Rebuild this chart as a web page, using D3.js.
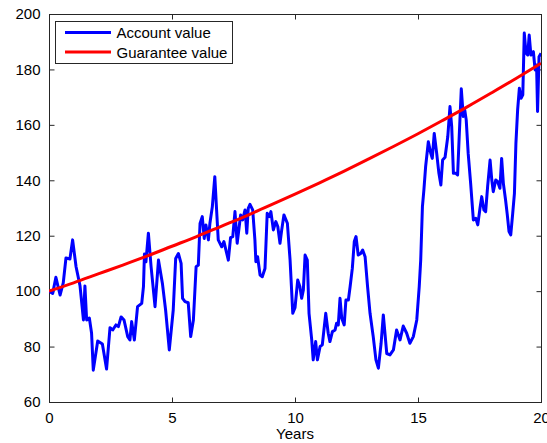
<!DOCTYPE html>
<html>
<head>
<meta charset="utf-8">
<script src="https://cdn.jsdelivr.net/npm/d3@7"></script>
<style>
  body { margin: 0; background: #fff; }
  text { font-family: "Liberation Sans", Arial, sans-serif; }
</style>
</head>
<body>
<div id="chart"></div>
<script>
// account value path (years, value)
var accountYears = [0,0.15,0.28,0.45,0.58,0.69,0.85,0.96,1.1,1.26,1.4,1.46,1.53,1.64,1.73,1.8,1.98,2.17,2.34,2.48,2.59,2.72,2.82,2.93,3.05,3.2,3.29,3.36,3.47,3.6,3.77,3.84,3.88,3.94,4.04,4.15,4.31,4.45,4.61,4.74,4.89,5.05,5.15,5.26,5.37,5.43,5.53,5.66,5.76,5.87,5.98,6.07,6.14,6.23,6.31,6.38,6.48,6.54,6.64,6.74,6.82,6.88,7.02,7.11,7.29,7.38,7.47,7.56,7.65,7.79,7.87,7.97,8.04,8.1,8.17,8.28,8.37,8.41,8.48,8.58,8.67,8.78,8.87,8.96,9.02,9.12,9.22,9.3,9.39,9.46,9.55,9.69,9.8,9.91,10.0,10.11,10.2,10.27,10.34,10.41,10.5,10.57,10.68,10.74,10.84,10.91,11.02,11.11,11.25,11.35,11.42,11.52,11.63,11.69,11.76,11.83,11.9,12.0,12.07,12.17,12.24,12.33,12.41,12.48,12.57,12.67,12.75,12.85,12.95,13.05,13.18,13.29,13.39,13.5,13.59,13.73,13.86,14.0,14.13,14.27,14.4,14.54,14.67,14.81,14.95,15.05,15.11,15.18,15.24,15.31,15.42,15.52,15.58,15.66,15.76,15.85,15.93,16.0,16.1,16.21,16.3,16.37,16.44,16.54,16.61,16.68,16.76,16.84,16.9,16.96,17.04,17.14,17.25,17.35,17.43,17.52,17.59,17.68,17.75,17.83,17.93,18.0,18.06,18.16,18.24,18.33,18.4,18.47,18.56,18.63,18.7,18.77,18.85,18.92,18.98,19.05,19.12,19.19,19.26,19.32,19.39,19.46,19.52,19.59,19.69,19.76,19.82,19.86,19.92,20.0];
var accountValues = [100,99.2,105,98.6,103,112,111.6,118.5,108.8,102,89.6,101.9,89.6,90.3,84.9,71.5,82,80.9,71.9,86.8,86,87.8,87.2,90.7,89.6,83.6,82.4,89,82.4,94.4,95.6,101.6,113.4,110.6,120.9,108.8,94.4,111.2,102.8,93.2,78.8,93.2,111.8,113.6,110,97.4,96.2,95.8,83.6,89.6,108.8,109.4,124.4,126.9,119,123.9,118.5,124.4,130.5,141.3,128.1,118.5,116,117.9,111.2,119.3,119.7,128.7,117.3,127.5,125.7,129.3,120.9,129.9,131.3,129.3,118.5,110.6,112.4,105.8,105.2,108.2,128.1,126.9,128.7,122.1,125.1,123.3,117.3,122.1,127.5,124.5,111.2,92,94,104,101.6,97.4,100.4,113,111.2,92,82.4,75.2,81.8,75.2,80,80.6,92,84.8,81.8,85.4,86,88.4,87.8,97.4,90.2,87.8,96.8,96.8,101.6,108.2,117.9,119.7,113,113.6,114.8,112.4,101.6,92,83.6,75.2,72.2,81.2,91.4,77.5,77,78.8,86,82.4,87.4,84.8,81.2,83.6,89.6,101.6,111.2,130.5,136.5,144.9,153.9,149.7,147.9,156.9,149.7,142.5,138.3,147.3,148.3,155.7,166.6,159.4,142.5,142.5,141.9,156.9,173,163,165.4,161.8,149.7,138.9,125.7,126.3,123.9,129.9,134.1,129.3,128.7,137.7,147.3,140.1,135.9,140.1,139.5,137.1,147.9,138.9,132.9,127.5,121.5,120.3,128.1,135.3,153.3,165.4,173.2,169.6,170.8,193.1,185.9,185.2,192.4,185.2,186.4,179.8,181.6,164.8,184.6,185.8];

// guarantee value, one reading per year
var guaranteeYears = [0,1,2,3,4,5,6,7,8,9,10,11,12,13,14,15,16,17,18,19,20];
var guaranteeValues = [100,103,106.2,109.4,112.7,116.2,119.7,123.4,127.1,131,135,139.1,143.3,147.7,152.2,156.8,161.6,166.5,171.6,176.8,182.2];

var xTicks = [0,5,10,15,20];
var yTicks = [60,80,100,120,140,160,180,200];
var seriesNames = ["Account value","Guarantee value"];
var seriesColors = ["#0000ff","#ff0000"];

draw();

function draw(){
    var width = 547, height = 443;
    var mLeft = 49, mRight = 541, mTop = 14, mBottom = 402;
    var axisColor = "#262626";

    var svg = d3.select("#chart").append("svg")
        .attr("width", width)
        .attr("height", height);

    var x = d3.scaleLinear().domain([0,20]).range([mLeft,mRight]);
    var y = d3.scaleLinear().domain([60,200]).range([mBottom,mTop]);

    // box
    svg.append("rect")
        .attr("x", mLeft + 0.5).attr("y", mTop + 0.5)
        .attr("width", mRight-mLeft).attr("height", mBottom-mTop)
        .attr("fill", "#fff")
        .attr("stroke", axisColor)
        .attr("stroke-width", 1);

    // inward ticks on all four sides
    function drawAxis(axis, tx, ty) {
        var g = svg.append("g")
            .attr("transform", "translate(" + tx + "," + ty + ")")
            .call(axis);
        g.select(".domain").remove();
        g.selectAll("line").attr("stroke", axisColor);
        g.selectAll("text").attr("fill", "#000").style("font-size", "15px")
            .style("font-family", "'Liberation Sans', Arial, sans-serif");
        return g;
    }

    drawAxis(d3.axisBottom(x).tickValues(xTicks).tickSize(-5).tickPadding(10).tickFormat(d3.format("d")), 0, mBottom + 0.5);
    drawAxis(d3.axisTop(x).tickValues(xTicks).tickSize(-5).tickFormat(""), 0, mTop + 0.5);
    drawAxis(d3.axisLeft(y).tickValues(yTicks).tickSize(-5).tickPadding(9).tickFormat(d3.format("d")), mLeft + 0.5, 0);
    drawAxis(d3.axisRight(y).tickValues(yTicks).tickSize(-5).tickFormat(""), mRight + 0.5, 0);

    svg.append("text")
        .attr("x", (mLeft+mRight)/2)
        .attr("y", 439)
        .attr("text-anchor", "middle")
        .style("font-size", "15px")
        .text("Years");

    svg.append("clipPath").attr("id", "plotclip")
        .append("rect").attr("x", mLeft).attr("y", mTop)
        .attr("width", mRight-mLeft).attr("height", mBottom-mTop);

    var line = d3.line()
        .x(function(d){ return x(d[0]); })
        .y(function(d){ return y(d[1]); });

    var accountData = accountYears.map(function(t,i){ return [t, accountValues[i]]; });
    var guaranteeData = guaranteeYears.map(function(t,i){ return [t, guaranteeValues[i]]; });

    svg.append("path")
        .datum(accountData)
        .attr("clip-path", "url(#plotclip)")
        .attr("fill", "none")
        .attr("stroke", seriesColors[0])
        .attr("stroke-width", 3)
        .attr("stroke-linejoin", "round")
        .attr("d", line);

    svg.append("path")
        .datum(guaranteeData)
        .attr("clip-path", "url(#plotclip)")
        .attr("fill", "none")
        .attr("stroke", seriesColors[1])
        .attr("stroke-width", 3)
        .attr("d", line.curve(d3.curveMonotoneX));

    // legend
    var legend = svg.append("g");
    legend.append("rect")
        .attr("x", 55.5).attr("y", 21.5)
        .attr("width", 177).attr("height", 42)
        .attr("fill", "#fff")
        .attr("stroke", axisColor)
        .attr("stroke-width", 1);

    seriesNames.forEach(function(name, i){
        var ly = 32.5 + i*19.5;
        legend.append("line")
            .attr("x1", 65).attr("x2", 111)
            .attr("y1", ly).attr("y2", ly)
            .attr("stroke", seriesColors[i])
            .attr("stroke-width", 3);
        legend.append("text")
            .attr("x", 116.5).attr("y", ly + 5.5)
            .style("font-size", "15px")
            .text(name);
    });
}
</script>
</body>
</html>
